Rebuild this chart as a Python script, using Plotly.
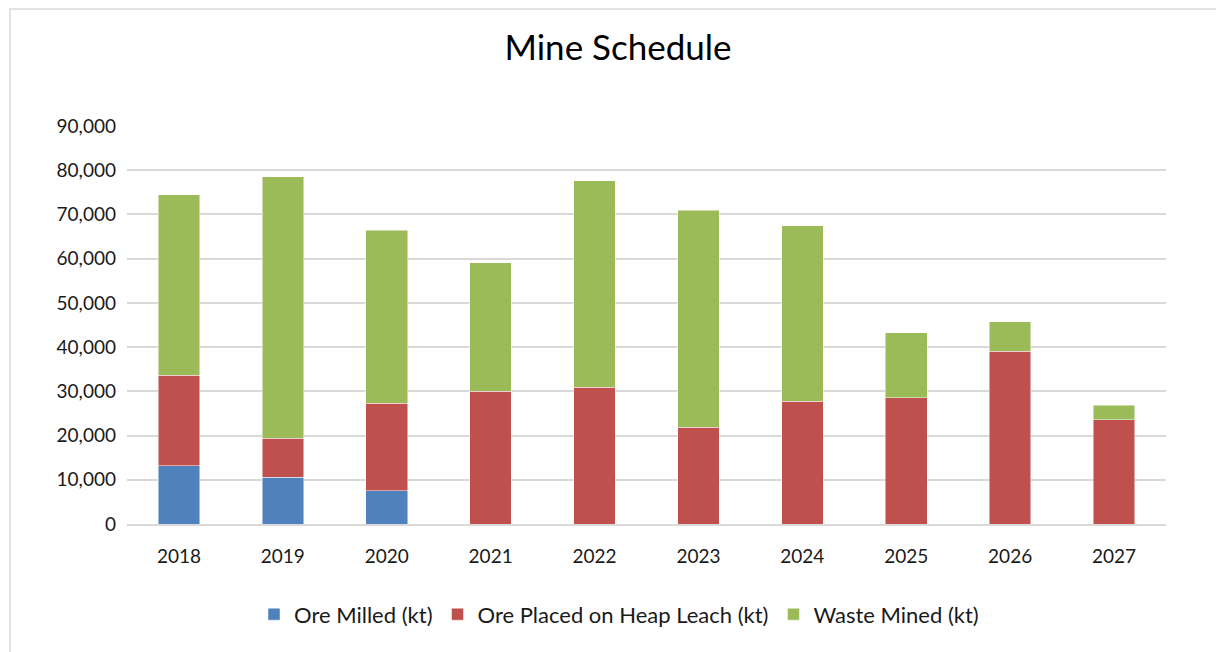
import plotly.graph_objects as go

years = ["2018", "2019", "2020", "2021", "2022", "2023", "2024", "2025", "2026", "2027"]
ore_milled = [13200, 10600, 7500, 0, 0, 0, 0, 0, 0, 0]
heap_leach = [20400, 8800, 19800, 30000, 30950, 21900, 27800, 28500, 39100, 23600]
waste_mined = [40900, 59150, 39100, 29100, 46650, 49000, 39700, 14700, 6600, 3200]

series_names = ["Ore Milled (kt)", "Ore Placed on Heap Leach (kt)", "Waste Mined (kt)"]
colors = ["#4F81BD", "#C0504D", "#9BBB59"]
y_ticks = [0, 10000, 20000, 30000, 40000, 50000, 60000, 70000, 80000, 90000]

FONT = "Lato, 'Open Sans', sans-serif"

fig = go.Figure()
for name, vals, col in zip(series_names, [ore_milled, heap_leach, waste_mined], colors):
    fig.add_trace(go.Bar(
        x=years, y=vals, name=name,
        marker=dict(color=col, line=dict(color="rgba(255,255,255,0.6)", width=0.8)),
    ))

# page is rendered with an 8px body margin; work in page pixels and shift
OFF = 8
W, H = 1224 - OFF, 652 - OFF
L = 127 - OFF
R = W - (1166 - OFF)
T = 126 - OFF
B = H - (524.5 - OFF)
pw, ph = W - L - R, H - T - B

def px_x(p):
    return (p - OFF - L) / pw

def px_y(p):
    return (H - B - (p - OFF)) / ph

fig.update_layout(
    width=W, height=H,
    barmode="stack", bargap=0.6,
    plot_bgcolor="white", paper_bgcolor="white",
    margin=dict(l=L, r=R, t=T, b=B, autoexpand=False),
    font=dict(family=FONT, color="#1a1a1a", size=19),
    title=dict(text="Mine Schedule", x=(618 - OFF) / W, xref="container", xanchor="center",
               y=1 - (48 - OFF) / H, yref="container", yanchor="middle",
               font=dict(size=35, family=FONT, color="#000000")),
    xaxis=dict(showgrid=False, showline=True, linecolor="#d9d9d9", linewidth=1.5,
               ticks="", tickfont=dict(size=19, color="#1a1a1a"), ticklabelstandoff=14,
               tickangle=0, automargin=False),
    yaxis=dict(range=[0, 90000], tickvals=y_ticks, tickformat=",d",
               showgrid=True, gridcolor="#d9d9d9", gridwidth=1.5, zeroline=False,
               showline=False, ticks="", tickfont=dict(size=19, color="#1a1a1a"),
               ticklabelstandoff=10, automargin=False),
    legend=dict(orientation="h", xref="paper", x=px_x(619), xanchor="center",
                yref="paper", y=px_y(615), yanchor="middle",
                font=dict(size=22, family=FONT, color="#1a1a1a"),
                itemwidth=30, traceorder="normal"),
    shapes=[dict(type="rect", xref="paper", yref="paper",
                 x0=px_x(10), x1=px_x(1220),
                 y0=px_y(670), y1=px_y(OFF + 0.75),
                 line=dict(color="#d9d9d9", width=1.5), fillcolor="rgba(0,0,0,0)",
                 layer="below")],
)

fig.write_html("out.html")
